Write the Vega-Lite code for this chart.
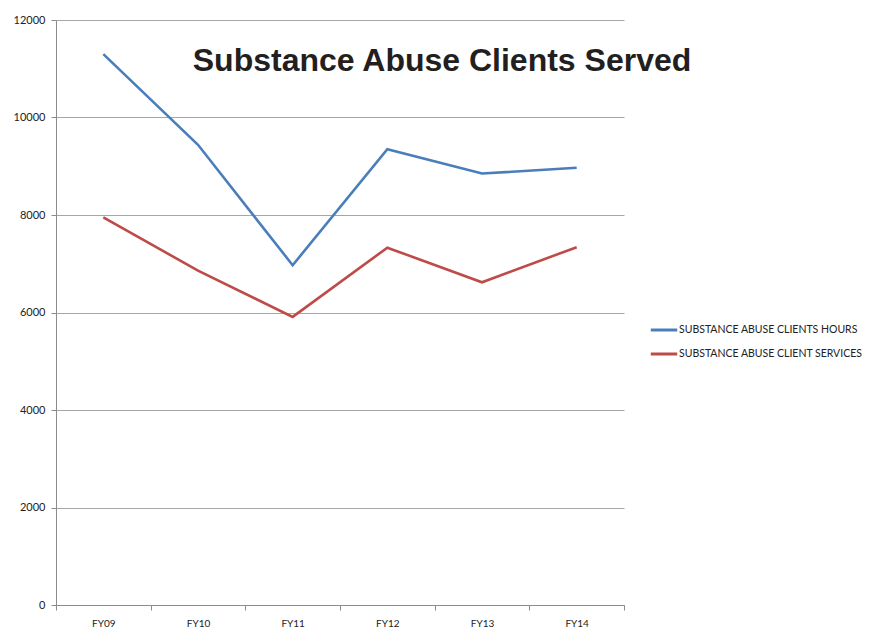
{
  "$schema": "https://vega.github.io/schema/vega-lite/v6.json",
  "autosize": {"type": "none"},
  "width": 568,
  "height": 585,
  "padding": {"left": 56, "top": 20, "right": 263, "bottom": 31},
  "background": "white",
  "title": {
    "text": "Substance Abuse Clients Served",
    "font": "Liberation Sans",
    "fontSize": 32,
    "fontWeight": "bold",
    "color": "#231f20",
    "anchor": "middle",
    "orient": "top",
    "baseline": "alphabetic",
    "offset": -89,
    "dx": 102
  },
  "data": {
    "values": [
      {"year": "FY09", "series": "SUBSTANCE ABUSE CLIENTS HOURS", "value": 11300},
      {"year": "FY10", "series": "SUBSTANCE ABUSE CLIENTS HOURS", "value": 9440},
      {"year": "FY11", "series": "SUBSTANCE ABUSE CLIENTS HOURS", "value": 6970},
      {"year": "FY12", "series": "SUBSTANCE ABUSE CLIENTS HOURS", "value": 9350},
      {"year": "FY13", "series": "SUBSTANCE ABUSE CLIENTS HOURS", "value": 8850},
      {"year": "FY14", "series": "SUBSTANCE ABUSE CLIENTS HOURS", "value": 8970},
      {"year": "FY09", "series": "SUBSTANCE ABUSE CLIENT SERVICES", "value": 7950},
      {"year": "FY10", "series": "SUBSTANCE ABUSE CLIENT SERVICES", "value": 6860},
      {"year": "FY11", "series": "SUBSTANCE ABUSE CLIENT SERVICES", "value": 5910},
      {"year": "FY12", "series": "SUBSTANCE ABUSE CLIENT SERVICES", "value": 7330},
      {"year": "FY13", "series": "SUBSTANCE ABUSE CLIENT SERVICES", "value": 6620},
      {"year": "FY14", "series": "SUBSTANCE ABUSE CLIENT SERVICES", "value": 7340}
    ]
  },
  "mark": {"type": "line", "strokeWidth": 2.6},
  "encoding": {
    "x": {
      "field": "year",
      "type": "nominal",
      "scale": {"type": "band", "paddingInner": 0, "paddingOuter": 0},
      "axis": {
        "title": null,
        "labelAngle": 0,
        "labelFont": "Lato",
        "labelFontSize": 10,
        "labelColor": "#222222",
        "labelPadding": 8,
        "domainColor": "#8c8c8c",
        "tickColor": "#8c8c8c",
        "tickSize": 5,
        "tickBand": "extent",
        "grid": false
      }
    },
    "y": {
      "field": "value",
      "type": "quantitative",
      "scale": {"domain": [0, 12000], "nice": false},
      "axis": {
        "title": null,
        "format": "d",
        "values": [0, 2000, 4000, 6000, 8000, 10000, 12000],
        "labelFont": "Lato",
        "labelFontSize": 11,
        "labelColor": "#222222",
        "labelPadding": 6,
        "domainColor": "#8c8c8c",
        "tickColor": "#8c8c8c",
        "tickSize": 5,
        "grid": true,
        "gridColor": "#a6a6a6",
        "gridWidth": 1
      }
    },
    "color": {
      "field": "series",
      "type": "nominal",
      "sort": ["SUBSTANCE ABUSE CLIENTS HOURS", "SUBSTANCE ABUSE CLIENT SERVICES"],
      "scale": {
        "domain": ["SUBSTANCE ABUSE CLIENTS HOURS", "SUBSTANCE ABUSE CLIENT SERVICES"],
        "range": ["#4a7ebb", "#be4b48"]
      },
      "legend": {
        "title": null,
        "orient": "none",
        "legendX": 593,
        "legendY": 295,
        "symbolType": "stroke",
        "symbolSize": 700,
        "symbolStrokeWidth": 3,
        "labelFont": "Lato",
        "labelFontSize": 10.5,
        "labelColor": "#222222",
        "labelOffset": 0,
        "rowPadding": 3,
        "labelLimit": 300
      }
    }
  },
  "config": {
    "view": {"stroke": null}
  }
}
